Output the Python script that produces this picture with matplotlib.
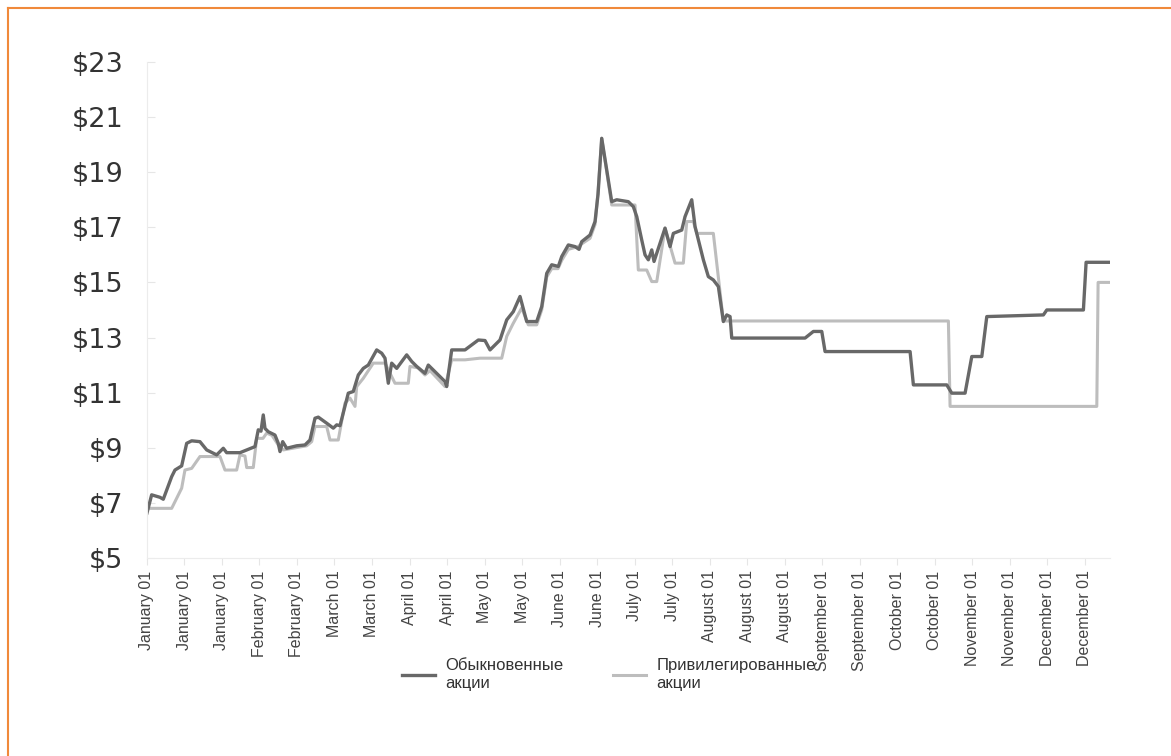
import matplotlib
matplotlib.use('Agg')
import matplotlib.pyplot as plt
from matplotlib.lines import Line2D

plt.rcParams['font.family'] = ['Liberation Sans', 'DejaVu Sans']

# Подписи оси X (каждые две недели)
tick_labels = ['January 01', 'January 01', 'January 01', 'February 01', 'February 01',
               'March 01', 'March 01', 'April 01', 'April 01', 'May 01', 'May 01',
               'June 01', 'June 01', 'July 01', 'July 01', 'August 01', 'August 01',
               'August 01', 'September 01', 'September 01', 'October 01', 'October 01',
               'November 01', 'November 01', 'December 01', 'December 01']

# Обыкновенные акции (позиция в делениях оси, цена)
common_x = [0.0, 0.125, 0.347, 0.435, 0.659, 0.747, 0.925, 1.059, 1.192, 1.413, 1.592,
            1.859, 2.035, 2.125, 2.48, 2.88, 2.968, 3.04, 3.101, 3.147, 3.235, 3.413,
            3.501, 3.547, 3.619, 3.725, 3.992, 4.213, 4.347, 4.48, 4.568, 4.792, 4.968,
            5.059, 5.147, 5.368, 5.501, 5.635, 5.768, 5.901, 6.125, 6.259, 6.347, 6.435,
            6.525, 6.659, 6.925, 7.059, 7.192, 7.413, 7.501, 7.813, 7.947, 7.992, 8.125,
            8.48, 8.835, 9.013, 9.147, 9.413, 9.592, 9.768, 9.947, 10.125, 10.392,
            10.525, 10.659, 10.792, 10.968, 11.059, 11.235, 11.413, 11.52, 11.592,
            11.813, 11.947, 12.027, 12.125, 12.392, 12.525, 12.835, 12.968, 13.059,
            13.192, 13.28, 13.368, 13.459, 13.52, 13.813, 13.947, 14.035, 14.259,
            14.347, 14.525, 14.613, 14.835, 14.968, 15.101, 15.235, 15.368, 15.459,
            15.547, 15.592, 17.547, 17.768, 17.992, 18.08, 20.347, 20.435, 21.325,
            21.459, 21.813, 21.992, 22.259, 22.392, 23.901, 23.992, 24.968, 25.04, 25.68]
common_y = [6.63, 7.29, 7.2, 7.13, 7.95, 8.19, 8.34, 9.16, 9.25, 9.22, 8.92,
            8.74, 8.98, 8.82, 8.82, 9.04, 9.65, 9.6, 10.19, 9.7, 9.58, 9.46,
            9.16, 8.86, 9.22, 8.98, 9.07, 9.1, 9.28, 10.07, 10.11, 9.89, 9.71,
            9.83, 9.8, 10.98, 11.04, 11.64, 11.88, 12.0, 12.55, 12.43, 12.25, 11.34,
            12.07, 11.88, 12.37, 12.13, 11.95, 11.7, 12.0, 11.58, 11.4, 11.22, 12.55,
            12.55, 12.91, 12.89, 12.55, 12.91, 13.64, 13.94, 14.49, 13.58, 13.58,
            14.12, 15.33, 15.64, 15.58, 15.94, 16.36, 16.3, 16.2, 16.48,
            16.72, 17.21, 18.2, 20.23, 17.93, 18.0, 17.93, 17.75, 17.39,
            16.54, 16.0, 15.82, 16.18, 15.76, 16.97, 16.3, 16.78, 16.9,
            17.39, 18.0, 17.03, 15.82, 15.21, 15.09, 14.85, 13.58, 13.82,
            13.76, 12.98, 12.98, 13.22, 13.22, 12.49, 12.49, 11.28, 11.28,
            10.98, 10.98, 12.31, 12.31, 13.76, 13.82, 14.0, 14.0, 15.73, 15.73]

# Привилегированные акции
pref_x = [0.0, 0.659, 0.925, 1.013, 1.192, 1.413, 1.947, 2.08, 2.392, 2.48, 2.613,
          2.659, 2.835, 2.925, 3.093, 3.192, 3.333, 3.501, 3.635, 4.259, 4.392, 4.48,
          4.792, 4.88, 5.101, 5.28, 5.413, 5.547, 5.592, 5.768, 6.035, 6.347, 6.613,
          6.968, 7.013, 7.227, 7.413, 7.547, 7.947, 8.125, 8.48, 8.88, 9.459, 9.592,
          9.76, 9.992, 10.168, 10.392, 10.525, 10.659, 10.792, 10.96, 11.059, 11.235,
          11.493, 11.592, 11.813, 11.947, 12.027, 12.125, 12.392, 13.013, 13.101,
          13.325, 13.459, 13.592, 13.813, 14.08, 14.301, 14.392, 14.568, 14.659,
          15.101, 15.368, 21.368, 21.413, 25.325, 25.36, 25.68]
pref_y = [6.8, 6.8, 7.53, 8.19, 8.25, 8.68, 8.68, 8.19, 8.19, 8.74, 8.7,
          8.28, 8.28, 9.34, 9.34, 9.53, 9.45, 9.1, 8.92, 9.07, 9.22, 9.77,
          9.77, 9.28, 9.28, 10.62, 10.8, 10.5, 11.22, 11.52, 12.07, 12.07, 11.34,
          11.34, 11.95, 11.9, 11.64, 11.8, 11.22, 12.19, 12.19, 12.25, 12.25, 13.04,
          13.5, 14.07, 13.46, 13.46, 14.0, 15.2, 15.5, 15.5, 15.8, 16.2,
          16.3, 16.4, 16.6, 17.1, 18.3, 20.23, 17.81, 17.81, 15.45,
          15.45, 15.03, 15.03, 16.97, 15.7, 15.7, 17.21, 17.21, 16.78,
          16.78, 13.6, 13.6, 10.5, 10.5, 15.0, 15.0]

y_ticks = [5, 7, 9, 11, 13, 15, 17, 19, 21, 23]

dark = '#686868'
light = '#bdbdbd'

fig = plt.figure(figsize=(11.71, 7.56), dpi=100)
fig.patch.set_facecolor('white')

# оранжевая рамка сверху и слева
fig.add_artist(Line2D([0.007, 1.0], [0.99, 0.99], color='#f0893a', lw=1.5, transform=fig.transFigure))
fig.add_artist(Line2D([0.007, 0.007], [0.0, 0.99], color='#f0893a', lw=1.5, transform=fig.transFigure))

ax = fig.add_axes([0.1255, 0.262, 0.8225, 0.656])
ax.plot(pref_x, pref_y, color=light, lw=2.2, label='Привилегированные\nакции')
ax.plot(common_x, common_y, color=dark, lw=2.4, label='Обыкновенные\nакции')

ax.set_xlim(0, 25.68)
ax.set_ylim(5, 23)
ax.set_yticks(y_ticks)
ax.set_yticklabels(['$' + str(v) for v in y_ticks], fontsize=19.5, color='#333333',
                   family=['DejaVu Sans'])
ax.set_xticks(range(len(tick_labels)))
ax.set_xticklabels(tick_labels, rotation=90, fontsize=11.5, color='#444444',
                   family=['Liberation Sans Narrow', 'Liberation Sans', 'DejaVu Sans'])

for s in ['top', 'right']:
    ax.spines[s].set_visible(False)
for s in ['left', 'bottom']:
    ax.spines[s].set_color('#ececec')
ax.tick_params(axis='y', colors='#e6e6e6', labelcolor='#333333', length=6, direction='in', pad=17)
ax.tick_params(axis='x', colors='#e6e6e6', labelcolor='#444444', length=5, pad=4)

handles, labels = ax.get_legend_handles_labels()
leg = fig.legend(handles[::-1], labels[::-1], loc='center', bbox_to_anchor=(0.52, 0.108),
                 ncol=2, frameon=False, fontsize=12, handlelength=1.95, handletextpad=0.63,
                 columnspacing=3.0)
for t in leg.get_texts():
    t.set_color('#333333')

plt.savefig('out.png', dpi=100)
